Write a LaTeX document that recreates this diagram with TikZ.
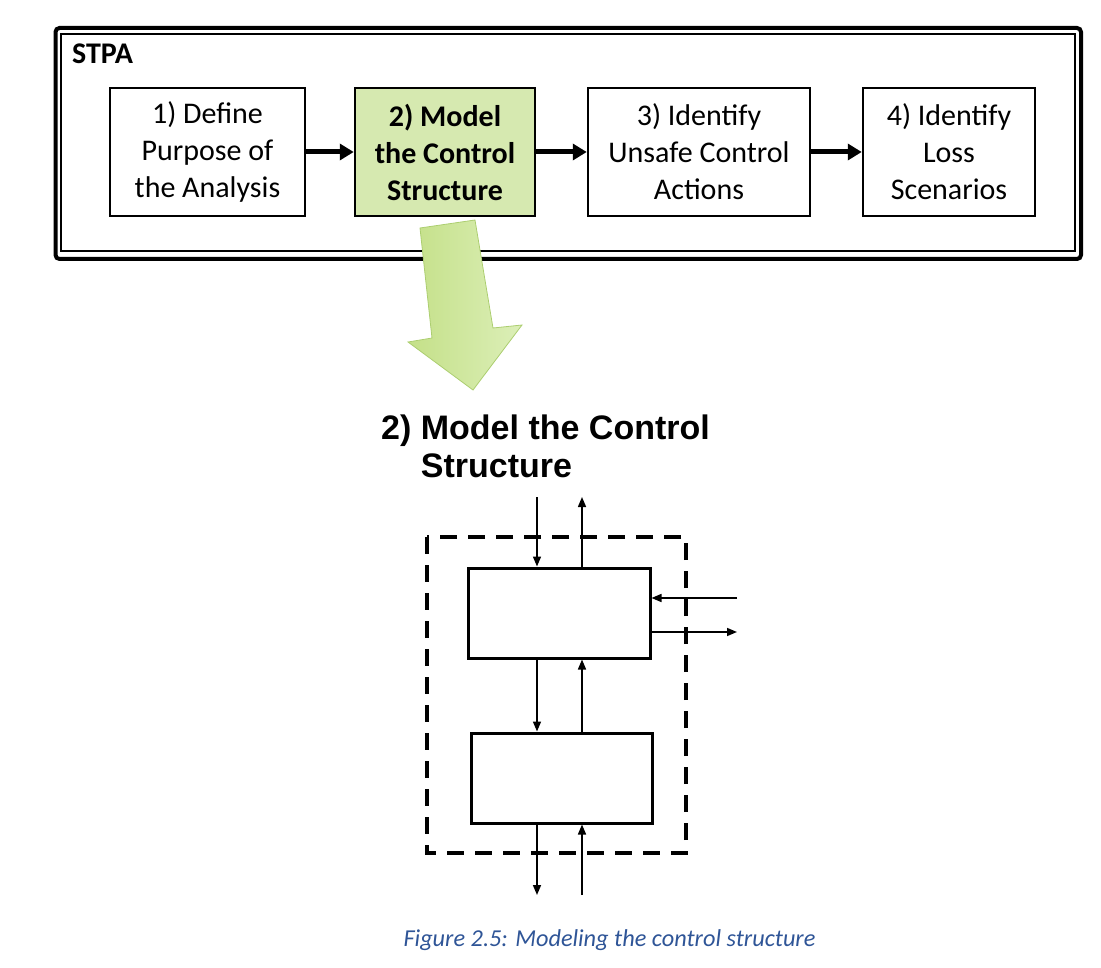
\documentclass[tikz,border=0pt]{standalone}
\usepackage{fontspec}
\setmainfont{Carlito}
\newfontfamily\headfont{Liberation Sans}
\usetikzlibrary{arrows.meta}
\definecolor{stepgreen}{RGB}{214,233,176}
\definecolor{arrowdark}{RGB}{196,224,136}
\definecolor{arrowlight}{RGB}{220,239,184}
\definecolor{arrowedge}{RGB}{172,206,112}
\definecolor{capblue}{RGB}{47,85,151}
\tikzset{
    stage/.style={rectangle, draw=black, line width=2.5pt, fill=white, minimum height=128pt, inner sep=0pt, align=center, font=\fontsize{30}{37}\selectfont},
    active/.style={stage, fill=stepgreen, font=\fontsize{30}{37}\selectfont\bfseries},
    flow/.style={line width=5pt, -{Triangle[length=14pt,width=16pt]}},
    block/.style={rectangle, draw=black, line width=3pt, inner sep=0pt, minimum height=90pt},
    sig/.style={line width=1.5pt, -{Triangle[length=10pt,width=8pt]}}
}
\begin{document}
\begin{tikzpicture}
  [
    x                       = 1pt,
    y                       = -1pt,
  ]
  \useasboundingbox (0,0) rectangle (1101,968);
  \draw [line width=4pt, rounded corners=4pt] (55.5,28) rectangle (1081,259);
  \draw [line width=2.5pt] (61,34) rectangle (1075,251);
  \node [anchor=north west, inner sep=0pt, font=\fontsize{30}{36}\selectfont\bfseries] (stpa) at (72,44) {STPA};
  \node [stage, minimum width=195pt] (s1) at (207.5,152) {1) Define\\Purpose of\\the Analysis};
  \node [active, minimum width=180pt] (s2) at (445,152) {2) Model\\the Control\\Structure};
  \node [stage, minimum width=222pt] (s3) at (699,152) {3) Identify\\Unsafe Control\\Actions};
  \node [stage, minimum width=172pt] (s4) at (949,152) {4) Identify\\Loss\\Scenarios};
  \draw [flow] (s1) -- (s2);
  \draw [flow] (s2) -- (s3);
  \draw [flow] (s3) -- (s4);
  \shade [left color=arrowdark, right color=arrowlight, draw=arrowedge, line width=0.8pt]
    (420,228) -- (475,220) -- (493,328) -- (522,325) -- (473,390) -- (408,342) -- (432,338) -- cycle;
  \node [anchor=north west, inner sep=0pt, align=left, font=\headfont\bfseries\fontsize{34}{38}\selectfont] (head) at (381,415)
    {2) Model the Control\\\phantom{2) }Structure};
  \draw [line width=4pt, dash pattern=on 17pt off 11pt] (427,537) rectangle (686,853);
  \node [block, minimum width=182pt] (ctrl) at (559,613) {};
  \node [block, minimum width=181pt] (proc) at (561.5,778) {};
  \coordinate (in1) at (537,497);
  \coordinate (out1) at (582,497);
  \coordinate (in2) at (737,598);
  \coordinate (out2) at (737,632);
  \coordinate (out3) at (537,895);
  \coordinate (in3) at (582,895);
  \draw [sig] (in1) -- (in1 |- ctrl.north);
  \draw [sig] (out1 |- ctrl.north) -- (out1);
  \draw [sig] (in2) -- (in2 -| ctrl.east);
  \draw [sig] (out2 -| ctrl.east) -- (out2);
  \draw [sig] (in1 |- ctrl.south) -- (in1 |- proc.north);
  \draw [sig] (out1 |- proc.north) -- (out1 |- ctrl.south);
  \draw [sig] (in1 |- proc.south) -- (out3);
  \draw [sig] (in3) -- (in3 |- proc.south);
  \node [anchor=base, inner sep=0pt, text=capblue, font=\fontsize{24.3}{29}\selectfont\itshape] (cap) at (609.5,946)
    {Figure 2.5: Modeling the control structure};
\end{tikzpicture}
\end{document}
